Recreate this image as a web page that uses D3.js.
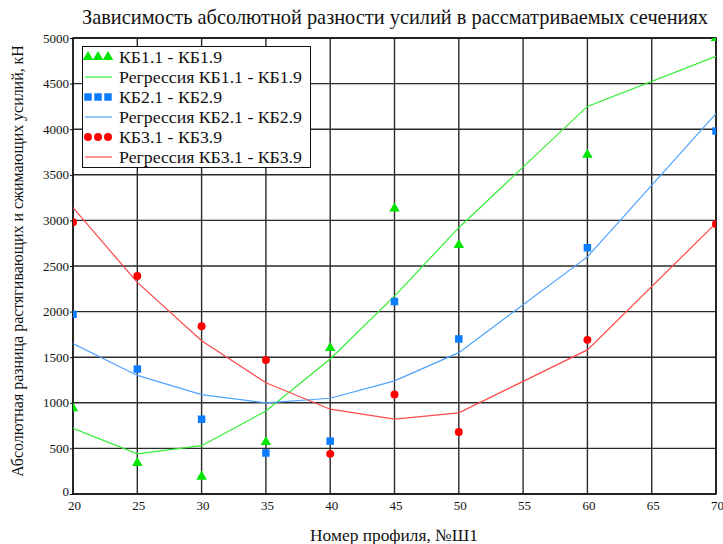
<!DOCTYPE html>
<html>
<head>
<meta charset="utf-8">
<script src="https://cdn.jsdelivr.net/npm/d3@7"></script>
<style>
  html, body { margin: 0; padding: 0; background: #fff; }
  svg { display: block; }
  svg text { font-family: 'Liberation Serif', 'Times New Roman', serif; }
</style>
</head>
<body>
<svg id="chart" width="723" height="544"></svg>
<script>
// Profile numbers (x) shared by all series
const profiles = [20, 25, 30, 35, 40, 45, 50, 60, 70];

// Measured absolute force differences, kN
const kb1 = [940, 340, 190, 570, 1600, 3130, 2730, 3720, 5000];
const kb2 = [1970, 1370, 820, 450, 580, 2110, 1700, 2700, 3980];
const kb3 = [2980, 2390, 1840, 1470, 440, 1090, 680, 1690, 2960];

// Regression curves evaluated at the same profiles
const reg1 = [720, 440, 530, 910, 1480, 2170, 2920, 4250, 4800];
const reg2 = [1650, 1300, 1090, 1000, 1050, 1240, 1550, 2600, 4170];
const reg3 = [3140, 2320, 1680, 1220, 930, 820, 890, 1580, 2970];

const xTicks = [20, 25, 30, 35, 40, 45, 50, 55, 60, 65, 70];
const yTicks = [0, 500, 1000, 1500, 2000, 2500, 3000, 3500, 4000, 4500, 5000];

const legendLabels = [
  "КБ1.1 - КБ1.9", "Регрессия КБ1.1 - КБ1.9",
  "КБ2.1 - КБ2.9", "Регрессия КБ2.1 - КБ2.9",
  "КБ3.1 - КБ3.9", "Регрессия КБ3.1 - КБ3.9"
];

const FONT = "'Liberation Serif', 'Times New Roman', serif";
const INK = "#111";

const svg = d3.select("#chart");
const L = 73, R = 716, T = 38, B = 494;

const x = d3.scaleLinear().domain([20, 70]).range([L, R]);
const y = d3.scaleLinear().domain([0, 5000]).range([B, T]);

// Set a text's font size so that it spans the given width
function fitWidth(sel, width) {
  sel.style("font-size", "20px");
  const w = sel.node().getComputedTextLength();
  sel.style("font-size", (20 * width / w).toFixed(2) + "px");
  return sel;
}

// Title
fitWidth(svg.append("text")
  .attr("x", 395).attr("y", 24)
  .attr("text-anchor", "middle")
  .style("font-family", FONT).attr("fill", INK)
  .text("Зависимость абсолютной разности усилий в рассматриваемых сечениях"), 626);

// Grid
const grid = svg.append("g").attr("stroke", "#2a2a2a").attr("stroke-width", 1.4);
grid.selectAll("line.v").data(xTicks).join("line")
  .attr("x1", d => x(d)).attr("x2", d => x(d))
  .attr("y1", T).attr("y2", B);
grid.selectAll("line.h").data(yTicks).join("line")
  .attr("x1", L).attr("x2", R)
  .attr("y1", d => y(d)).attr("y2", d => y(d));

// Axes
const yAxis = d3.axisLeft(y).tickValues(yTicks).tickSize(3).tickPadding(1).tickFormat(d3.format("d"));
const xAxis = d3.axisBottom(x).tickValues(xTicks).tickSize(0).tickPadding(7).tickFormat(d3.format("d"));

const gy = svg.append("g").attr("transform", `translate(${L},0)`).call(yAxis)
  .attr("font-family", FONT).attr("font-size", 13);
gy.select(".domain").remove();
gy.selectAll("text").style("font-size", "13px").style("font-family", FONT).attr("fill", INK);
gy.selectAll("line").attr("stroke", INK);
gy.selectAll(".tick").filter(d => d === 0).select("text").attr("dy", "0.1em");

const gx = svg.append("g").attr("transform", `translate(0,${B})`).call(xAxis)
  .attr("font-family", FONT).attr("font-size", 13);
gx.select(".domain").remove();
gx.selectAll("text").style("font-size", "13px").style("font-family", FONT).attr("fill", INK).attr("dx", 1);

// Frame
svg.append("rect").attr("x", L).attr("y", T).attr("width", R - L).attr("height", B - T)
  .attr("fill", "none").attr("stroke", INK).attr("stroke-width", 1.5);

// Axis titles
fitWidth(svg.append("text")
  .attr("transform", `translate(23,${(T + B) / 2 - 5}) rotate(-90)`)
  .attr("text-anchor", "middle").style("font-family", FONT).attr("fill", INK)
  .text("Абсолютная разница растягивающих и сжимающих усилий, кН"), 432);
fitWidth(svg.append("text")
  .attr("x", 394).attr("y", 541)
  .attr("text-anchor", "middle").style("font-family", FONT).attr("fill", INK)
  .text("Номер профиля, №Ш1"), 168);

// Plot clip
svg.append("clipPath").attr("id", "plotClip")
  .append("rect").attr("x", L).attr("y", T).attr("width", R - L).attr("height", B - T);
const plot = svg.append("g").attr("clip-path", "url(#plotClip)");

const series = [
  { pts: kb1, reg: reg1, color: "#00e600", line: "#33ee33", sym: d3.symbolTriangle, area: 48 },
  { pts: kb2, reg: reg2, color: "#0a7cff", line: "#4da3ff", sym: d3.symbolSquare, area: 56 },
  { pts: kb3, reg: reg3, color: "#ff0000", line: "#ff4a4a", sym: d3.symbolCircle, area: 50 }
];

const line = d3.line().x((d, i) => x(profiles[i])).y(d => y(d));

series.forEach(s => {
  plot.append("path").datum(s.reg)
    .attr("d", line).attr("fill", "none")
    .attr("stroke", s.line).attr("stroke-width", 1.2);
});
series.forEach(s => {
  plot.selectAll(null).data(s.pts).join("path")
    .attr("transform", (d, i) => `translate(${x(profiles[i])},${y(d)})`)
    .attr("d", d3.symbol(s.sym, s.area)()).attr("fill", s.color);
});

// Legend
const lg = svg.append("g");
lg.append("rect").attr("x", 82.5).attr("y", 46.5).attr("width", 228).attr("height", 121)
  .attr("fill", "#fff").attr("stroke", INK).attr("stroke-width", 1);
// size the entries from the longest label
const probe = lg.append("text").style("font-family", FONT).text(legendLabels[1]);
fitWidth(probe, 183);
const legendSize = probe.style("font-size");
probe.remove();

legendLabels.forEach((lab, i) => {
  const s = series[Math.floor(i / 2)];
  const cy = 57 + i * 20;
  if (i % 2 === 0) {
    [88, 98, 108].forEach(cx => {
      lg.append("path").attr("transform", `translate(${cx},${cy})`)
        .attr("d", d3.symbol(s.sym, s.area)()).attr("fill", s.color);
    });
  } else {
    lg.append("line").attr("x1", 85).attr("x2", 112).attr("y1", cy).attr("y2", cy)
      .attr("stroke", s.line).attr("stroke-width", 1.2);
  }
  lg.append("text").attr("x", 119).attr("y", cy + 6)
    .style("font-family", FONT).style("font-size", legendSize).attr("fill", INK).text(lab);
});
</script>
</body>
</html>
